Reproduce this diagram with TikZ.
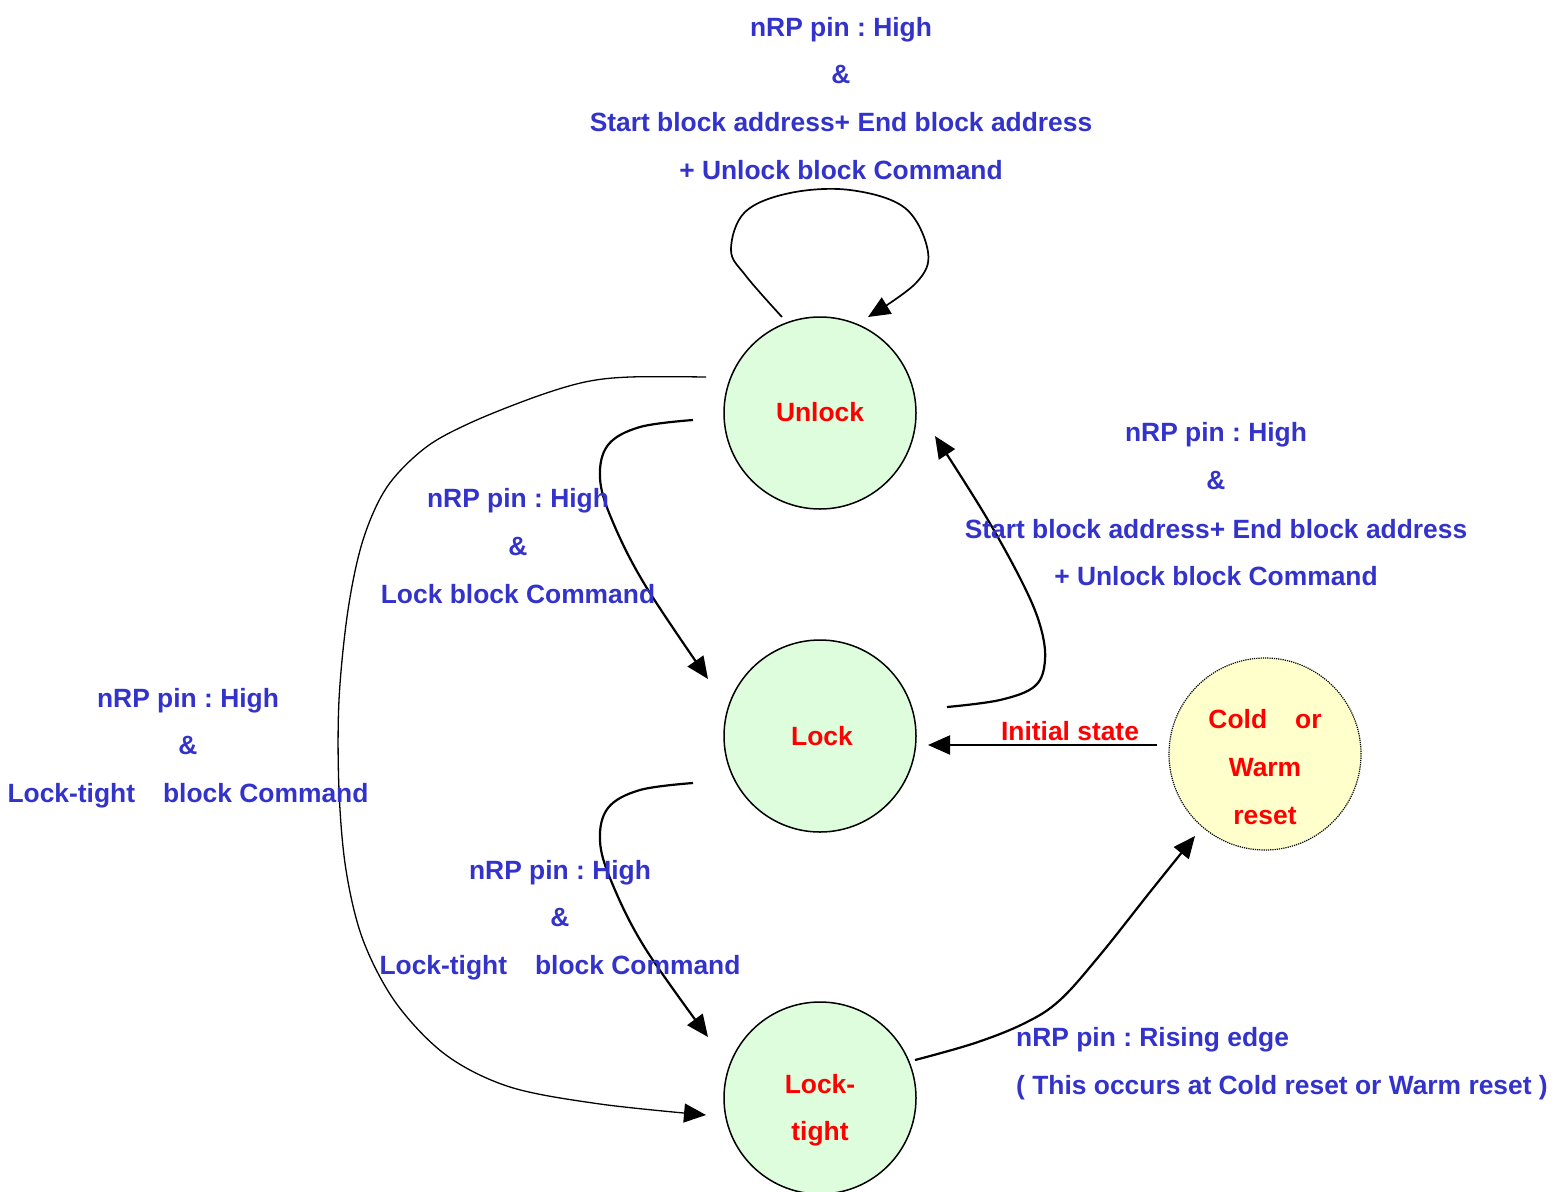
\documentclass[tikz,border=0pt]{standalone}
\usepackage{fontspec}
\setmainfont{Liberation Sans}
\usetikzlibrary{arrows.meta,calc}
\definecolor{lblue}{RGB}{51,51,204}
\definecolor{lred}{RGB}{255,0,0}
\definecolor{sgreen}{RGB}{221,253,221}
\definecolor{syellow}{RGB}{255,255,204}
\frenchspacing
\begin{document}
\begin{tikzpicture}[x=1pt,y=-1pt,
  state/.style={circle,draw,line width=1.5pt,fill=sgreen,minimum size=192pt,inner sep=0pt},
  rstate/.style={circle,draw,densely dotted,line width=1.2pt,fill=syellow,minimum size=192pt,inner sep=0pt},
  lbl/.style={text=lblue,font=\fontsize{26.4}{30}\selectfont\bfseries,anchor=base,inner sep=0pt},
  lbll/.style={lbl,anchor=base west},
  stxt/.style={text=lred,font=\fontsize{26.4}{30}\selectfont\bfseries,anchor=base,inner sep=0pt},
  conn/.style={line width=2.2pt,-{Triangle[length=22pt,width=19pt]}},
  thin conn/.style={line width=1.3pt,-{Triangle[length=22pt,width=19pt]}}]
\useasboundingbox (0,0) rectangle (1554,1191);
\fill[white] (0,0) rectangle (1554,1191);

% states
\node[state] (u) at (820,413) {};
\node[state] (l) at (820,736) {};
\node[state] (t) at (820,1098) {};
\node[rstate] (r) at (1265,754) {};

\node[stxt] (ut) at (820,421) {Unlock};
\node[stxt] (lt) at (822,745) {Lock};
\node[stxt] (tt1) at (820,1093) {Lock-};
\node[stxt] (tt2) at (820,1140) {tight};
\node[stxt] (rt1) at (1265,728) {Cold\hspace{28pt}or};
\node[stxt] (rt2) at (1265,776) {Warm};
\node[stxt] (rt3) at (1265,824) {reset};

% connector end points
\coordinate (s1) at ($(u)+(-38,-96)$);
\coordinate (e1) at ($(u)+(48,-96)$);
\coordinate (s2) at ($(u)+(-127,7)$);
\coordinate (e2) at ($(l)+(-112,-57)$);
\coordinate (s3) at ($(l)+(-127,47)$);
\coordinate (e3) at ($(t)+(-112,-61)$);
\coordinate (s4) at ($(u)+(-114,-36)$);
\coordinate (e4) at ($(t)+(-114,17)$);
\coordinate (s5) at ($(l)+(127,-29)$);
\coordinate (e5) at ($(u)+(115,23)$);
\coordinate (s6) at ($(r)+(-108,-9)$);
\coordinate (e6) at ($(l)+(108,9)$);
\coordinate (s7) at ($(t)+(95,-38)$);
\coordinate (e7) at ($(r)+(-70,82)$);

% self loop on Unlock
\draw[conn,line width=1.7pt] plot[smooth,tension=0.6] coordinates {(s1) (746,276) (731,250) (745,212) (790,193) (850,190) (905,208) (928,252) (916,283) (e1)};
% Unlock -> Lock
\draw[conn] plot[smooth,tension=0.6] coordinates {(s2) (640,427) (608,445) (600,478) (612,520) (645,585) (e2)};
% Lock -> Lock-tight
\draw[conn] plot[smooth,tension=0.6] coordinates {(s3) (640,790) (608,808) (600,841) (612,883) (645,948) (e3)};
% Unlock -> Lock-tight (long)
\draw[thin conn] plot[smooth,tension=0.55] coordinates {(s4) (630,377) (585,382) (535,397) (470,423) (425,448) (387,487) (363,540) (348,610) (339,700) (339,790) (346,870) (363,940) (396,1003) (446,1055) (510,1087) (600,1104) (e4)};
% Lock -> Unlock
\draw[conn] plot[smooth,tension=0.6] coordinates {(s5) (1000,700) (1035,686) (1045,660) (1040,625) (1022,582) (985,515) (e5)};
% Cold/Warm reset -> Lock
\draw[conn] (s6) -- (e6);
% Lock-tight -> Cold/Warm reset
\draw[conn] plot[smooth,tension=0.6] coordinates {(s7) (975,1043) (1025,1023) (1060,1000) (1100,955) (1150,892) (e7)};

% labels
\node[lbl] (a1) at (841,36) {nRP pin : High};
\node[lbl] (a2) at (841,83) {\&};
\node[lbl] (a3) at (841,131) {Start block address+ End block address};
\node[lbl] (a4) at (841,179) {+ Unlock block Command};

\node[lbl] (b1) at (1216,441) {nRP pin : High};
\node[lbl] (b2) at (1216,489) {\&};
\node[lbl] (b3) at (1216,538) {Start block address+ End block address};
\node[lbl] (b4) at (1216,585) {+ Unlock block Command};

\node[lbl] (c1) at (518,507) {nRP pin : High};
\node[lbl] (c2) at (518,555) {\&};
\node[lbl] (c3) at (518,603) {Lock block Command};

\node[lbl] (d1) at (188,707) {nRP pin : High};
\node[lbl] (d2) at (188,754) {\&};
\node[lbl] (d3) at (188,802) {Lock-tight\hspace{28pt}block Command};

\node[lbl] (f1) at (560,879) {nRP pin : High};
\node[lbl] (f2) at (560,926) {\&};
\node[lbl] (f3) at (560,974) {Lock-tight\hspace{28pt}block Command};

\node[lbll] (g1) at (1016,1046) {nRP pin : Rising edge};
\node[lbll] (g2) at (1016,1094) {( This occurs at Cold reset or Warm reset )};

\node[stxt] (init) at (1070,740) {Initial state};
\end{tikzpicture}
\end{document}
